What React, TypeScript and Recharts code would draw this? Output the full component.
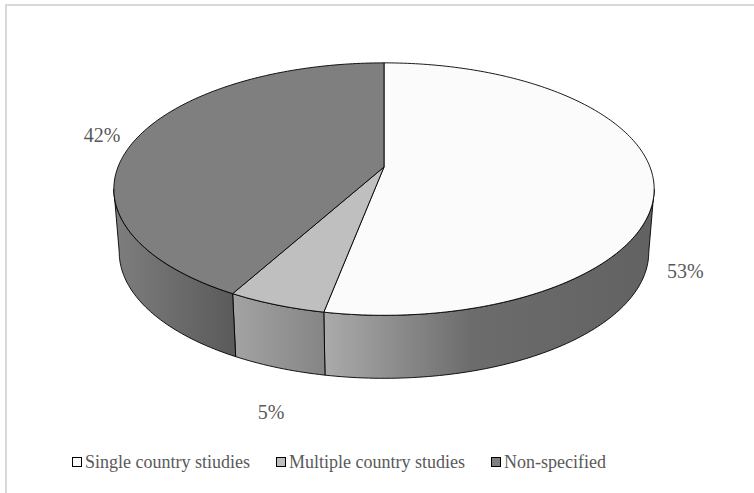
import React from 'react';
import { PieChart, Pie, Cell, Legend } from 'recharts';

const categories = ['Single country stiudies', 'Multiple country studies', 'Non-specified'];
const shares = [53, 5, 42];

const faceColors = ['#fbfbfb', '#bfbfbf', '#7f7f7f'];
const wallStops: [number, string][][] = [
  [[0, '#ababab'], [0.45, '#6c6c6c'], [1, '#626262']],
  [[0, '#a3a3a3'], [1, '#858585']],
  [[0, '#7e7e7e'], [1, '#5a5a5a']],
];

const data = categories.map((name, i) => ({ name, value: shares[i] }));

const W = 754;
const H = 493;
// recharts adds the 5px chart margin to cx / cy
const CX = 379;
const CY = 162;
const R = 266;
// tilt / perspective of the disc
const SQUASH = 0.46;
const PERSP = 0.175;
const DEPTH = 63;
const BASE_SHRINK = 0.98;
const FONT = "'Liberation Serif', 'DejaVu Serif', serif";
const TEXT = '#595959';

const rad = Math.PI / 180;

// point on the rim of the tilted disc for a recharts angle (degrees)
function rim(cx: number, cy: number, r: number, deg: number): [number, number] {
  const u = Math.cos(deg * rad);
  const v = Math.sin(deg * rad);
  const w = 1 + PERSP * v;
  return [cx + (r * u) / w, cy - (r * SQUASH * v) / w];
}

function arc(cx: number, cy: number, r: number, from: number, to: number) {
  const n = Math.max(2, Math.ceil(Math.abs(to - from)));
  const pts: [number, number][] = [];
  for (let i = 0; i <= n; i++) pts.push(rim(cx, cy, r, from + ((to - from) * i) / n));
  return pts;
}

const toD = (pts: [number, number][]) =>
  pts.map((p, i) => `${i ? 'L' : 'M'}${p[0].toFixed(2)},${p[1].toFixed(2)}`).join(' ');

function TopFace(props: any) {
  const { cx, cy, outerRadius, startAngle, endAngle, fill } = props;
  const pts: [number, number][] = [[cx, cy], ...arc(cx, cy, outerRadius, startAngle, endAngle)];
  return <path d={toD(pts) + ' Z'} fill={fill} stroke="#000" strokeWidth={0.9} strokeLinejoin="round" />;
}

// outer wall, only the part facing the viewer
function SideWall(props: any) {
  const { cx, cy, outerRadius, startAngle, endAngle, fill } = props;
  const edge = Math.asin(PERSP) / rad;
  const lo = Math.min(startAngle, endAngle);
  const hi = Math.max(startAngle, endAngle);
  const parts: string[] = [];
  for (const shift of [-360, 0, 360]) {
    const a = Math.max(lo + shift, -180 + edge);
    const b = Math.min(hi + shift, -edge);
    if (b > a) {
      const top = arc(cx, cy, outerRadius, b, a);
      const bottom = top
        .slice()
        .reverse()
        .map(([x, y]) => [cx + (x - cx) * BASE_SHRINK, y + DEPTH] as [number, number]);
      parts.push(toD([...top, ...bottom]) + ' Z');
    }
  }
  if (!parts.length) return <g />;
  return <path d={parts.join(' ')} fill={fill} stroke="#000" strokeWidth={0.9} strokeLinejoin="round" />;
}

const labelNudge = [
  [32, 92],
  [-5, 107],
  [-35, -3],
];

const renderLabel = (props: any) => {
  const { cx, cy, outerRadius, midAngle, index, value } = props;
  const [x, y] = rim(cx, cy, outerRadius, midAngle);
  const [dx, dy] = labelNudge[index] || [0, 0];
  return (
    <text
      x={x + dx}
      y={y + dy}
      textAnchor="middle"
      dominantBaseline="central"
      style={{ fontFamily: FONT }}
      fontSize={20}
      fill={TEXT}
    >
      {`${value}%`}
    </text>
  );
};

const renderLegend = () => (
  <div
    style={{
      display: 'flex',
      alignItems: 'center',
      fontFamily: FONT,
      fontSize: 18,
      color: TEXT,
      paddingLeft: 72,
      gap: 26,
      lineHeight: '20px',
      whiteSpace: 'nowrap',
    }}
  >
    {categories.map((c, i) => (
      <span key={c} style={{ display: 'flex', alignItems: 'center' }}>
        <span
          style={{
            width: 10,
            height: 10,
            boxSizing: 'border-box',
            border: '1.6px solid #000',
            background: faceColors[i],
            marginRight: 3,
          }}
        />
        {c}
      </span>
    ))}
  </div>
);

export default function App() {
  return (
    <div style={{ position: 'absolute', left: 0, top: 0, width: W, height: H, overflow: 'hidden', background: '#fff' }}>
      <div
        style={{
          position: 'absolute',
          left: 5,
          top: 4,
          width: 760,
          height: 500,
          border: '2px solid #d9d9d9',
          boxSizing: 'border-box',
        }}
      />
      <div style={{ position: 'absolute', left: 0, top: 0 }}>
        <PieChart width={W} height={H}>
          <defs>
            {wallStops.map((stops, i) => (
              <linearGradient key={i} id={`wall${i}`} x1="0" y1="0" x2="1" y2="0">
                {stops.map(([o, c]) => (
                  <stop key={o} offset={o} stopColor={c} />
                ))}
              </linearGradient>
            ))}
          </defs>
          <Pie
            data={data}
            dataKey="value"
            nameKey="name"
            cx={CX}
            cy={CY}
            outerRadius={R}
            startAngle={90}
            endAngle={-270}
            shape={SideWall}
            activeShape={SideWall}
            label={false}
            labelLine={false}
            isAnimationActive={false}
          >
            {data.map((d, i) => (
              <Cell key={d.name} fill={`url(#wall${i})`} />
            ))}
          </Pie>
          <Pie
            data={data}
            dataKey="value"
            nameKey="name"
            cx={CX}
            cy={CY}
            outerRadius={R}
            startAngle={90}
            endAngle={-270}
            shape={TopFace}
            activeShape={TopFace}
            label={renderLabel}
            labelLine={false}
            isAnimationActive={false}
          >
            {data.map((d, i) => (
              <Cell key={d.name} fill={faceColors[i]} />
            ))}
          </Pie>
          <Legend content={renderLegend} wrapperStyle={{ position: 'absolute', top: 452, left: 0, width: W }} />
        </PieChart>
      </div>
    </div>
  );
}
